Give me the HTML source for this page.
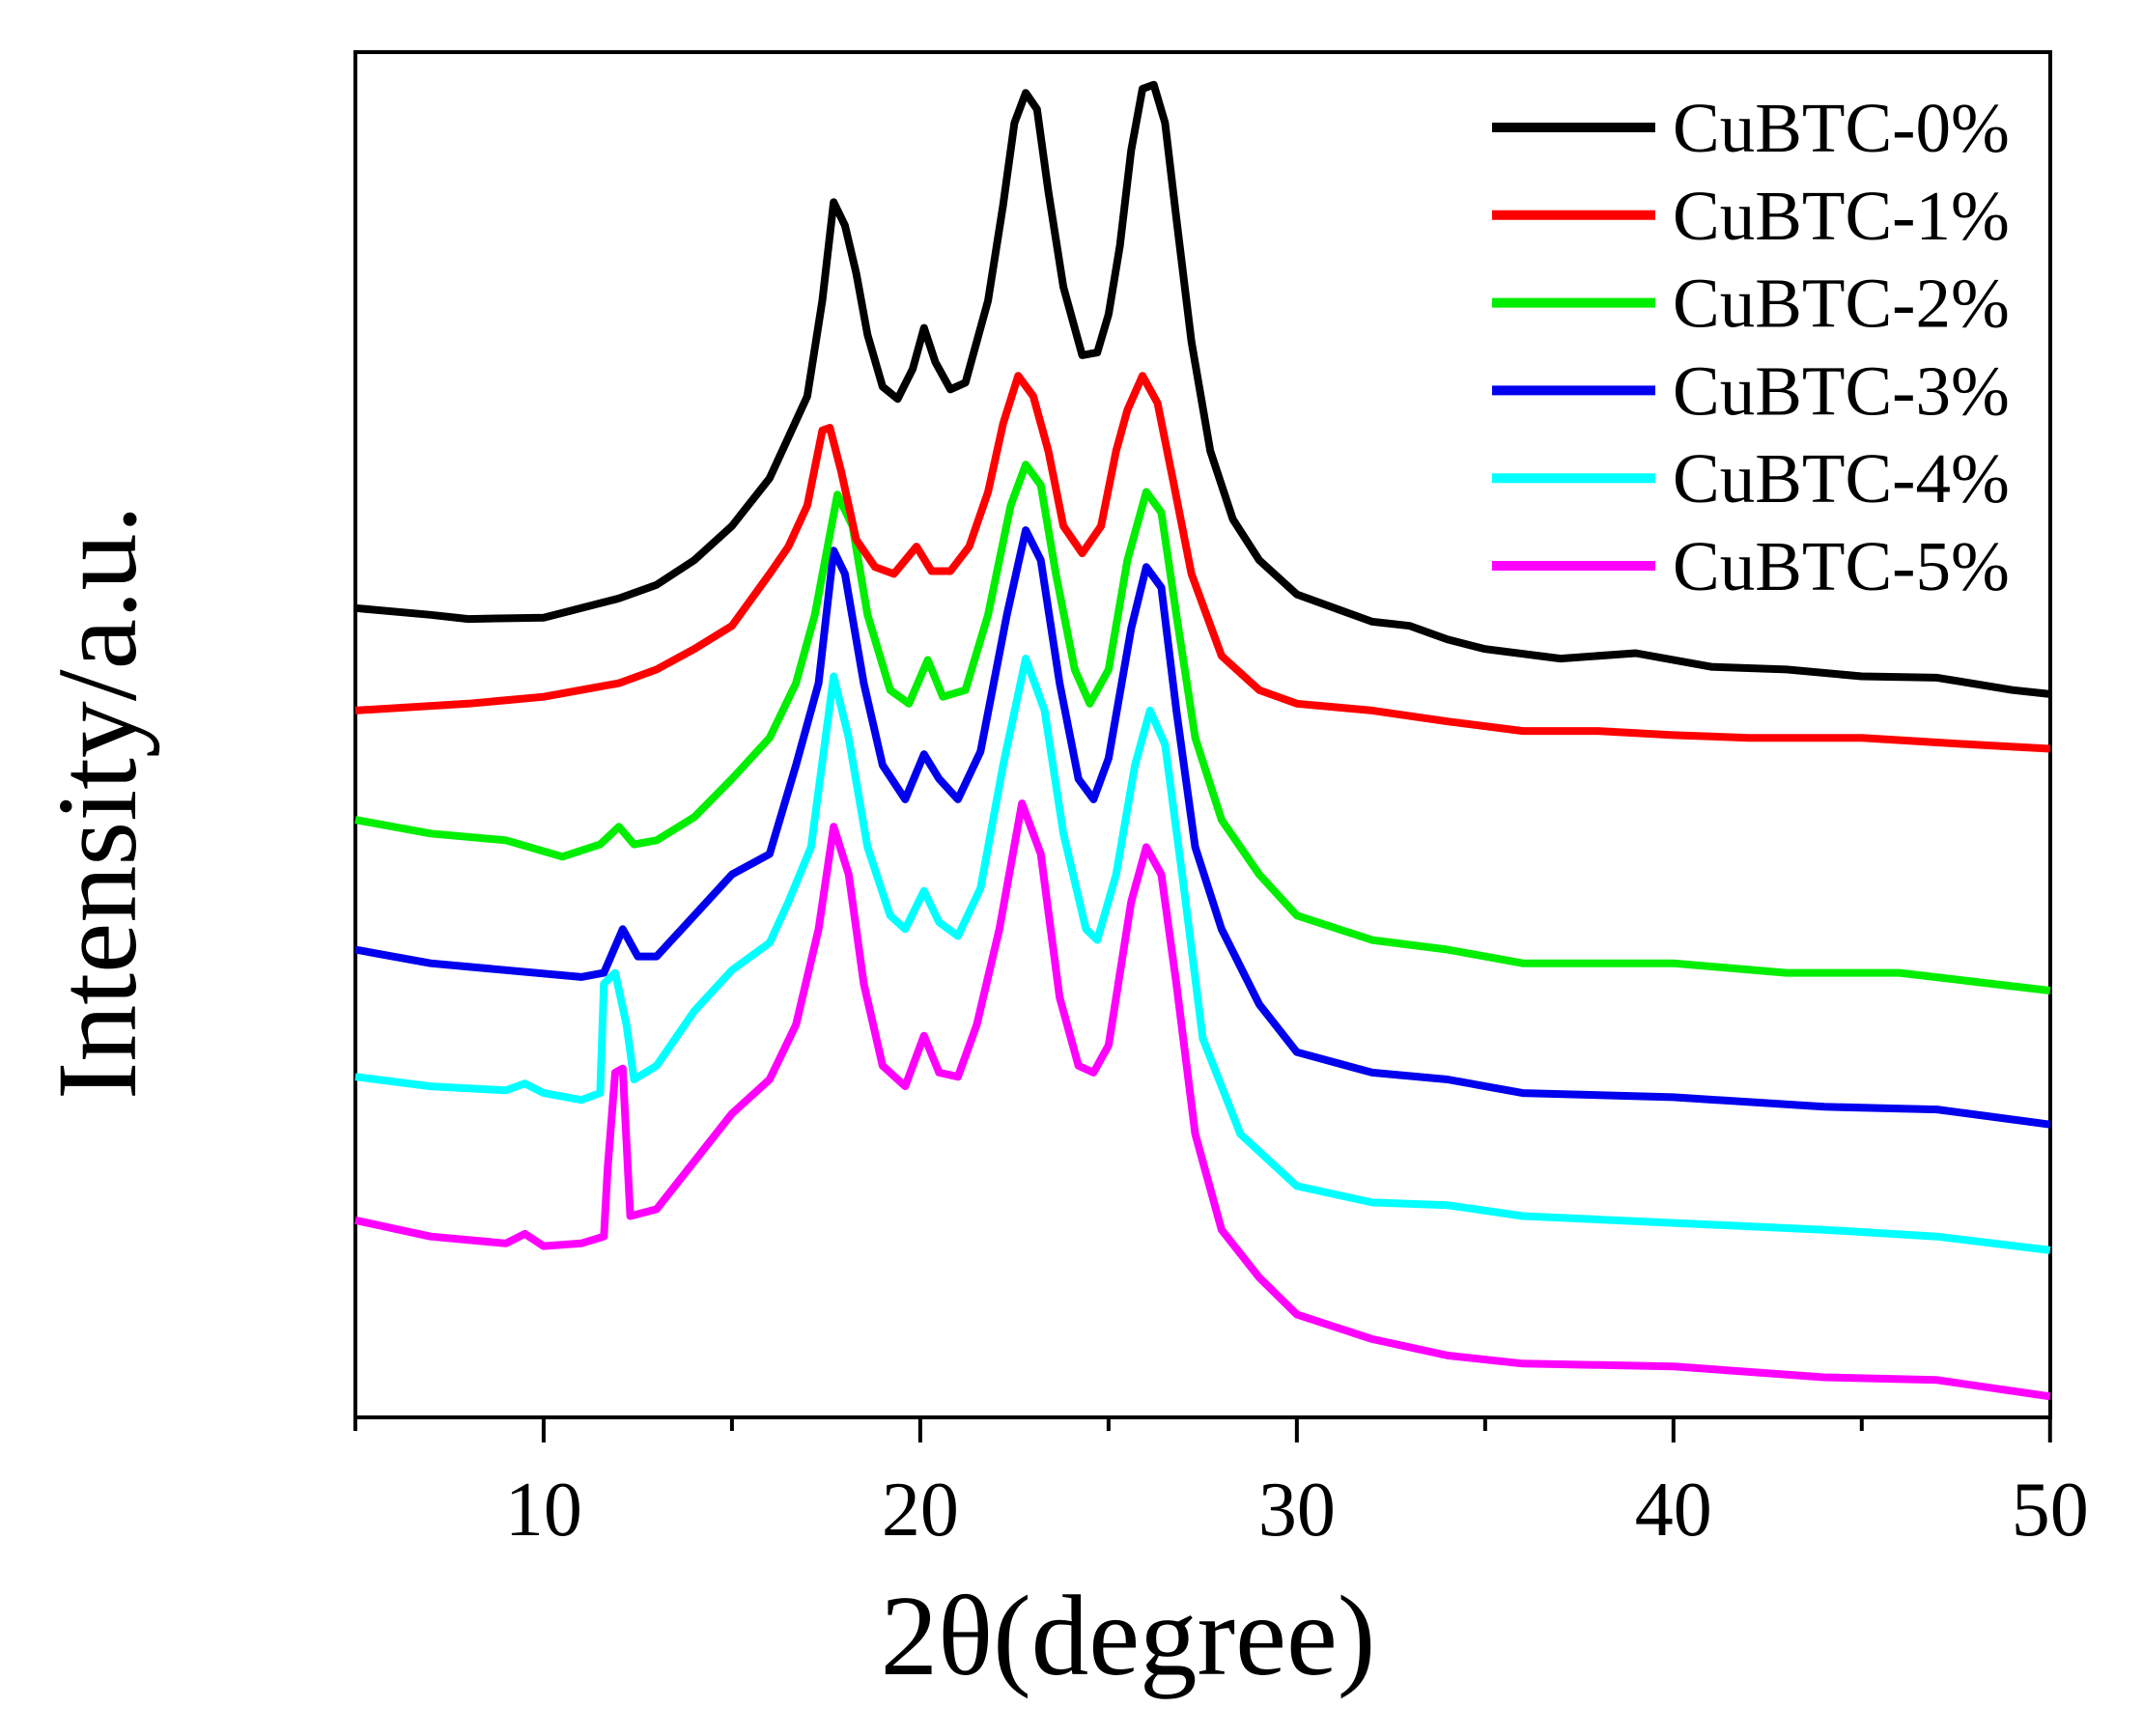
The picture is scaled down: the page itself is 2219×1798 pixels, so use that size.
<!DOCTYPE html>
<html><head><meta charset="utf-8"><style>
body{margin:0;background:#fff}
svg{display:block;font-family:"Liberation Serif",serif}
</style></head><body>
<svg id="chart" width="2219" height="1798" viewBox="0 0 2219 1798" xmlns="http://www.w3.org/2000/svg">
<rect x="368" y="54" width="1755" height="1414" fill="none" stroke="#000" stroke-width="4"/>
<g id="ticks"></g>
<g id="series"></g>
<text x="1168" y="1734" font-size="119" text-anchor="middle">2θ(degree)</text>
<text transform="translate(140,831) rotate(-90)" font-size="118" text-anchor="middle">Intensity/a.u.</text>
<g id="legend"></g>
</svg>
<script>
// data: x in degrees; values = vertical offset (screen-down units)
const labels=["CuBTC-0%","CuBTC-1%","CuBTC-2%","CuBTC-3%","CuBTC-4%","CuBTC-5%"];
const colors=["#000000","#ff0000","#00ee00","#0000ee","#00ffff","#ff00ff"];
const xTicks=[10,20,30,40,50];
const minorTicks=[5,15,25,35,45];
const x0=[5,7,8,10,11,12,13,14,15,16,16.5,17,17.4,17.7,18,18.3,18.6,19,19.4,19.8,20.1,20.4,20.8,21.2,21.5,21.8,22.2,22.5,22.8,23.1,23.4,23.8,24.3,24.7,25,25.3,25.6,25.9,26.2,26.5,26.8,27.2,27.7,28.3,29,30,31,32,33,34,35,37,39,41,43,45,47,49,50];
const y0=[445,450,453,452,445,438,428,410,385,350,320,290,220,148,165,200,245,283,292,270,240,265,285,280,250,220,150,90,68,80,140,210,260,258,230,180,110,65,62,90,160,250,330,380,410,435,445,455,458,468,475,482,478,488,490,495,496,505,508];
const x1=[5,8,10,12,13,14,15,16,16.5,17,17.4,17.6,17.9,18.3,18.8,19.3,19.9,20.3,20.8,21.3,21.8,22.2,22.6,23,23.4,23.8,24.3,24.8,25.2,25.5,25.9,26.3,26.7,27.2,28,29,30,32,34,36,38,40,42,45,48,50];
const y1=[520,515,510,500,490,475,458,420,400,370,315,313,345,395,415,420,400,418,418,400,360,310,275,290,330,385,405,385,330,300,275,295,350,420,480,505,515,520,528,535,535,538,540,540,545,548];
const x2=[5,7,9,10.5,11.5,12,12.4,13,14,15,16,16.7,17.2,17.8,18.2,18.6,19.2,19.7,20.2,20.6,21.2,21.8,22.4,22.8,23.2,23.6,24.1,24.5,25,25.5,26,26.4,26.8,27.3,28,29,30,32,34,36,40,43,46,50];
const y2=[600,610,615,627,618,605,618,615,598,570,540,500,450,362,385,450,505,515,483,510,505,450,370,340,355,420,490,515,490,410,360,375,450,540,600,640,670,688,695,705,705,712,712,725];
const x3=[5,7,9,11,11.6,12.1,12.5,13,14,15,16,16.7,17.3,17.7,18,18.5,19,19.6,20.1,20.5,21,21.6,22.3,22.8,23.2,23.7,24.2,24.6,25,25.6,26,26.4,26.8,27.3,28,29,30,32,34,36,40,44,47,50];
const y3=[695,705,710,715,712,680,700,700,670,640,625,560,500,403,420,500,560,585,552,570,585,550,450,388,410,500,570,585,555,460,415,430,520,620,680,735,770,785,790,800,803,810,812,823];
const x4=[5,7,9,9.5,10,11,11.5,11.6,11.9,12.2,12.4,13,14,15,16,16.5,17.1,17.7,18.1,18.6,19.2,19.6,20.1,20.5,21,21.6,22.2,22.8,23.3,23.8,24.4,24.7,25.2,25.7,26.1,26.5,27,27.5,28.5,30,32,34,36,40,44,47,50];
const y4=[788,795,798,793,800,805,800,720,712,750,790,780,740,710,690,660,620,495,540,620,670,680,652,675,685,650,560,482,520,610,680,688,640,560,520,545,650,760,830,868,880,882,890,895,900,905,915];
const x5=[5,7,9,9.5,10,11,11.6,11.7,11.9,12.1,12.3,13,14,15,16,16.7,17.3,17.7,18.1,18.5,19,19.6,20.1,20.5,21,21.5,22.1,22.7,23.2,23.7,24.2,24.6,25,25.6,26,26.4,26.8,27.3,28,29,30,32,34,36,40,44,47,50];
const y5=[893,905,910,903,912,910,905,855,785,782,890,885,850,815,790,750,680,605,640,720,780,795,758,785,788,750,680,588,625,730,780,785,765,660,620,640,720,830,900,935,962,980,992,998,1000,1008,1010,1022];
const xs=[x0,x1,x2,x3,x4,x5], ys=[y0,y1,y2,y3,y4,y5];

const S=2219/1568;
const xScale=x=>S*(260+(x-5)*1240/45);
const yScale=v=>S*v;
const NS="http://www.w3.org/2000/svg";
function mk(t,a){const e=document.createElementNS(NS,t);for(const k in a)e.setAttribute(k,a[k]);return e;}
const tg=document.getElementById('ticks');
xTicks.forEach(t=>{
  const X=xScale(t);
  const l=mk('line',{x1:X,y1:1468,x2:X,y2:1494,stroke:'#000','stroke-width':4});
  
  
  tg.appendChild(l);
  const tx=mk('text',{x:X,y:1590,'font-size':80,'text-anchor':'middle'});
  
  
  tx.textContent=t;tg.appendChild(tx);
});
minorTicks.forEach(t=>{
  const X=xScale(t);
  const l=mk('line',{x1:X,y1:1468,x2:X,y2:1482,stroke:'#000','stroke-width':4});
  
  
  tg.appendChild(l);
});
const sg=document.getElementById('series');
for(let i=labels.length-1;i>=0;i--){
  const d=xs[i].map((x,j)=>(j?'L':'M')+xScale(x).toFixed(1)+','+yScale(ys[i][j]).toFixed(1)).join('');
  const p=mk('path',{d:d,fill:'none',stroke:colors[i],'stroke-width':8,'stroke-linejoin':'round'});
  
  
  sg.appendChild(p);
}
const lg=document.getElementById('legend');
labels.forEach((lab,i)=>{
  const Y=132+i*90.8;
  const l=mk('line',{x1:1545,y1:Y,x2:1714,y2:Y,stroke:colors[i],'stroke-width':10});
  
  
  lg.appendChild(l);
  const t=mk('text',{x:1732,y:Y+25,'font-size':73});
  
  
  t.textContent=lab;lg.appendChild(t);
});
</script>
</body></html>
